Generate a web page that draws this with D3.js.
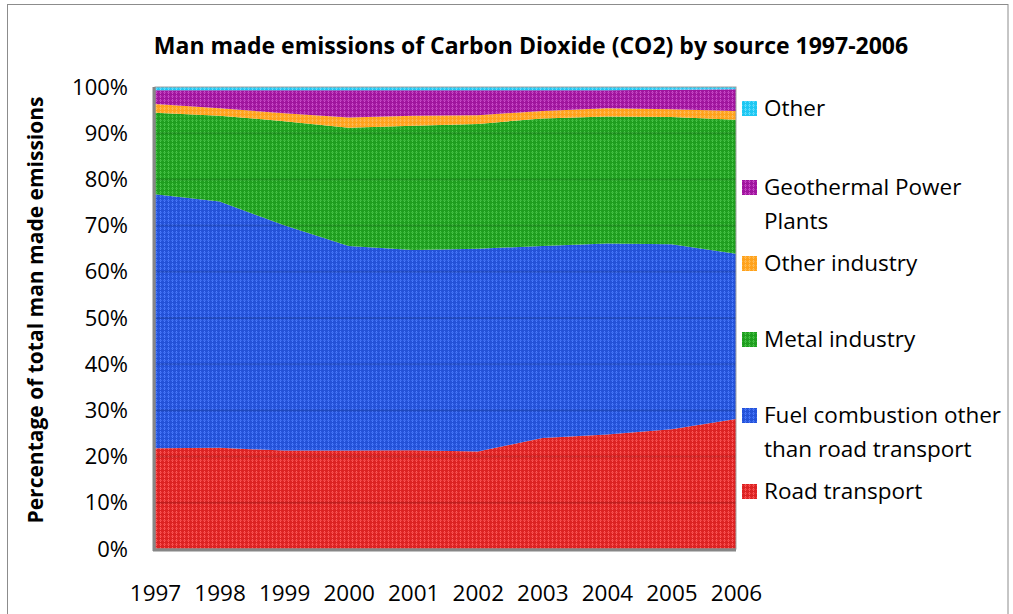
<!DOCTYPE html>
<meta charset="utf-8">
<style>
body { margin: 0; background: #fff; }
text { font-family: "Open Sans", sans-serif; fill: #000; }
</style>
<body>
<script src="https://d3js.org/d3.v7.min.js"></script>
<script>

// years and share of each source (percent)
var years = [1997, 1998, 1999, 2000, 2001, 2002, 2003, 2004, 2005, 2006];
var roadTransport = [21.8, 21.9, 21.3, 21.3, 21.4, 21.1, 24.0, 24.8, 25.9, 28.1];
var fuelCombustion = [55.0, 53.3, 48.8, 44.3, 43.3, 43.9, 41.6, 41.3, 40.0, 35.7];
var metalIndustry = [17.6, 18.6, 22.5, 25.6, 26.9, 27.0, 27.6, 27.5, 27.5, 28.9];
var otherIndustry = [1.9, 1.6, 1.7, 2.2, 2.2, 1.9, 1.6, 1.8, 1.7, 1.9];
var geothermal = [3.0, 3.9, 5.0, 5.9, 5.5, 5.4, 4.5, 3.9, 4.2, 4.7];
var other = [0.7, 0.7, 0.7, 0.7, 0.7, 0.7, 0.7, 0.7, 0.6, 0.5];

var seriesNames = ["Road transport", "Fuel combustion other than road transport",
  "Metal industry", "Other industry", "Geothermal Power Plants", "Other"];
var seriesValues = [roadTransport, fuelCombustion, metalIndustry, otherIndustry, geothermal, other];
var colors = ["#dc2323", "#2452d8", "#1f9e1f", "#ffa21c", "#a0159e", "#1ec8f2"];
var lightColors = ["#ff5a5a", "#4c7cff", "#4cc84c", "#ffc060", "#cc50cc", "#70e0ff"];

var W = 1013, H = 614;
var margin = {top: 87, left: 155, right: 277, bottom: 65};
var width = W - margin.left - margin.right,
    height = H - margin.top - margin.bottom;

var svg = d3.select("body").append("svg")
    .attr("width", W)
    .attr("height", H);

// outer chart border
svg.append("rect")
    .attr("x", 7.5).attr("y", 4.5)
    .attr("width", 1000.5).attr("height", 640)
    .attr("fill", "none")
    .attr("stroke", "#8c8c8c");

// texture patterns (Excel-like)
var defs = svg.append("defs");
colors.forEach(function(c, i) {
  var p = defs.append("pattern")
      .attr("id", "pat" + i)
      .attr("patternUnits", "userSpaceOnUse")
      .attr("width", 4).attr("height", 4);
  p.append("rect").attr("width", 4).attr("height", 4).attr("fill", c);
  p.append("rect").attr("x", 1).attr("y", 0).attr("width", 1).attr("height", 1).attr("fill", lightColors[i]);
  p.append("rect").attr("x", 0).attr("y", 1).attr("width", 3).attr("height", 1).attr("fill", lightColors[i]).attr("opacity", 0.55);
  p.append("rect").attr("x", 1).attr("y", 2).attr("width", 1).attr("height", 1).attr("fill", lightColors[i]);
});

// build table for d3.stack
var table = years.map(function(y, i) {
  var row = {year: y};
  seriesNames.forEach(function(n, k) { row[n] = seriesValues[k][i]; });
  return row;
});

var stack = d3.stack()
    .keys(seriesNames)
    .offset(d3.stackOffsetExpand);
var layers = stack(table);

var x = d3.scaleLinear()
    .domain([years[0], years[years.length - 1]])
    .range([0, width]);
var y = d3.scaleLinear()
    .domain([0, 1])
    .range([height, 0]);

var g = svg.append("g")
    .attr("transform", "translate(" + margin.left + "," + margin.top + ")");

var area = d3.area()
    .x(function(d) { return x(d.data.year); })
    .y0(function(d) { return y(d[0]); })
    .y1(function(d) { return y(d[1]); });

g.selectAll(".layer")
    .data(layers)
  .enter().append("path")
    .attr("class", "layer")
    .attr("d", area)
    .attr("fill", function(d, i) { return "url(#pat" + i + ")"; });

// gridlines show faintly through the areas
g.selectAll(".grid")
    .data(d3.range(0.1, 1.0, 0.1))
  .enter().append("line")
    .attr("x1", 0).attr("x2", width)
    .attr("y1", function(d) { return y(d); })
    .attr("y2", function(d) { return y(d); })
    .attr("stroke", "#000")
    .attr("stroke-opacity", 0.12)
    .attr("stroke-width", 2);

// plot frame
g.append("rect")
    .attr("width", width).attr("height", height)
    .attr("fill", "none")
    .attr("stroke", "#a0a0a0")
    .attr("stroke-width", 1);
g.append("line")
    .attr("x1", -1).attr("x2", -1).attr("y1", 0).attr("y2", height + 2)
    .attr("stroke", "#868686").attr("stroke-width", 3);
g.append("line")
    .attr("x1", -2).attr("x2", width).attr("y1", height + 1).attr("y2", height + 1)
    .attr("stroke", "#868686").attr("stroke-width", 3);

// y axis
var yAxis = g.append("g")
    .attr("transform", "translate(-27,0)")
    .call(d3.axisLeft(y).ticks(10, "%").tickSize(0).tickPadding(0));
yAxis.select(".domain").remove();
yAxis.selectAll("text")
    .style("font-size", "22px")
    .style("font-family", "'Open Sans', sans-serif");

// x axis
var xAxis = g.append("g")
    .attr("transform", "translate(0," + (height + 36) + ")")
    .call(d3.axisBottom(x).tickValues(years).tickFormat(d3.format("d")).tickSize(0).tickPadding(0));
xAxis.select(".domain").remove();
xAxis.selectAll("text")
    .style("font-size", "22.5px")
    .style("font-family", "'Open Sans', sans-serif");

// title
svg.append("text")
    .attr("x", 531).attr("y", 54)
    .attr("text-anchor", "middle")
    .style("font-size", "23px")
    .style("font-weight", "bold")
    .text("Man made emissions of Carbon Dioxide (CO2) by source 1997-2006");

// y axis title
svg.append("text")
    .attr("transform", "translate(43,310) rotate(-90)")
    .attr("text-anchor", "middle")
    .style("font-size", "21px")
    .style("font-weight", "bold")
    .text("Percentage of total man made emissions");

// legend, top to bottom
var legendItems = [
  {i: 5, lines: ["Other"], y: 108},
  {i: 4, lines: ["Geothermal Power", "Plants"], y: 187},
  {i: 3, lines: ["Other industry"], y: 263},
  {i: 2, lines: ["Metal industry"], y: 339},
  {i: 1, lines: ["Fuel combustion other", "than road transport"], y: 415},
  {i: 0, lines: ["Road transport"], y: 491}
];
var legend = svg.append("g");
legendItems.forEach(function(it) {
  legend.append("rect")
      .attr("x", 742).attr("y", it.y - 7)
      .attr("width", 15).attr("height", 15)
      .attr("fill", "url(#pat" + it.i + ")");
  it.lines.forEach(function(l, j) {
    legend.append("text")
        .attr("x", 764).attr("y", it.y + j * 34 + 8)
        .style("font-size", "22.5px")
        .text(l);
  });
});

</script>
</body>
